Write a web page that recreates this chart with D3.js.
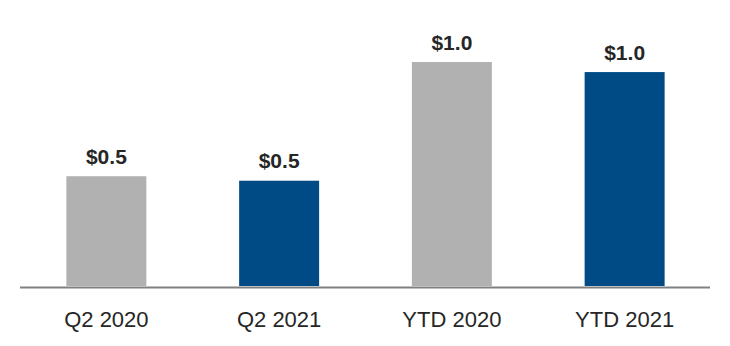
<!DOCTYPE html>
<html><head><meta charset="utf-8">
<script src="https://cdn.jsdelivr.net/npm/d3@7"></script>
<style>html,body{margin:0;padding:0;background:#fff;}svg{display:block;}</style>
</head><body><svg id="c" width="730" height="346"></svg>
<script>
const categories = ["Q2 2020", "Q2 2021", "YTD 2020", "YTD 2021"];
const values = [0.49, 0.47, 1.0, 0.955];
const barColors = ["#b1b1b1", "#004a86", "#b1b1b1", "#004a86"];

const svg = d3.select("#c");
const baseY = 286;
const x = d3.scaleBand().domain(categories).range([20, 711]).paddingInner(0.537).paddingOuter(0.2685);
const y = d3.scaleLinear().domain([0, 1]).range([baseY, 62]);
const fmt = d3.format("$.1f");

svg.selectAll("rect.bar").data(values).join("rect")
  .attr("class", "bar")
  .attr("x", (d, i) => x(categories[i]))
  .attr("width", x.bandwidth())
  .attr("y", d => y(d))
  .attr("height", d => baseY - y(d))
  .attr("fill", (d, i) => barColors[i]);

svg.selectAll("text.val").data(values).join("text")
  .attr("class", "val")
  .attr("x", (d, i) => x(categories[i]) + x.bandwidth() / 2)
  .attr("y", d => y(d) - 12.5)
  .attr("text-anchor", "middle")
  .attr("font-family", "Liberation Sans, Arial, sans-serif")
  .attr("font-weight", "bold")
  .attr("font-size", 21)
  .attr("fill", "#262626")
  .text(d => fmt(d));

const axis = d3.axisBottom(x).tickSize(0).tickPadding(24);
const g = svg.append("g").attr("transform", `translate(0,${baseY + 1.5})`).call(axis);
g.select(".domain").attr("stroke", "#808080").attr("stroke-width", 2).attr("d", "M20,0H710");
g.selectAll("text")
  .attr("font-family", "Liberation Sans, Arial, sans-serif")
  .attr("font-size", 22)
  .attr("fill", "#262626");
</script></body></html>
